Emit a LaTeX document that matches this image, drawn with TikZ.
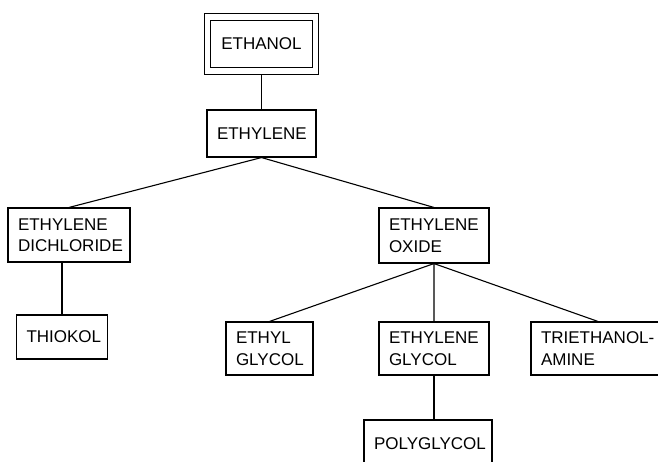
\documentclass[tikz,border=0pt]{standalone}
\usepackage{fontspec}
\setmainfont{Liberation Sans}
\begin{document}
\begin{tikzpicture}[x=1pt, y=-1pt, line width=1.1pt,
   every node/.style={font=\fontsize{17}{21.5}\selectfont},
   box/.style={draw, text width=#1, inner xsep=10pt, inner ysep=0pt, align=left}]
 \path[use as bounding box, clip] (0,0) rectangle (658,461);
 % top of the tree
 \node[box=88pt, align=center, double, double distance=5.5pt, outer sep=3.8pt,
       minimum height=54pt] (ethanol) at (261.5,44) {ETHANOL};
 \node[box=89pt, align=center, minimum height=47pt] (ethylene) at (261.5,133.5) {ETHYLENE};
 % second row
 \node[box=102pt, minimum height=54pt] (dichloride) at (69,235)   {ETHYLENE\\DICHLORIDE};
 \node[box=90pt,  minimum height=55pt] (oxide)      at (434,235.5) {ETHYLENE\\OXIDE};
 % third row
 \node[box=71pt, align=center, minimum height=44pt] (thiokol) at (62,337) {THIOKOL};
 \node[box=67pt,  minimum height=53pt] (ethylglycol) at (269.5,348.5) {ETHYL\\GLYCOL};
 \node[box=90pt,  minimum height=53pt] (glycol)      at (434,348.5)   {ETHYLENE\\GLYCOL};
 \node[box=114pt, minimum height=53pt] (triethanol)  at (598,348.5)   {TRIETHANOL-\\AMINE};
 \node[box=108pt, minimum height=47pt] (polyglycol)  at (428,443.5)   {POLYGLYCOL};
 % connectors
 \draw (ethanol.south) -- (ethylene.north);
 \draw (ethylene.south) -- (dichloride.north)
       (ethylene.south) -- (oxide.north);
 \draw (thiokol.north) -- (thiokol.north |- dichloride.south);
 \draw (oxide.south) -- (ethylglycol.north)
       (oxide.south) -- (glycol.north)
       (oxide.south) -- (triethanol.north);
 \draw (glycol.south) -- (glycol.south |- polyglycol.north);
\end{tikzpicture}
\end{document}
